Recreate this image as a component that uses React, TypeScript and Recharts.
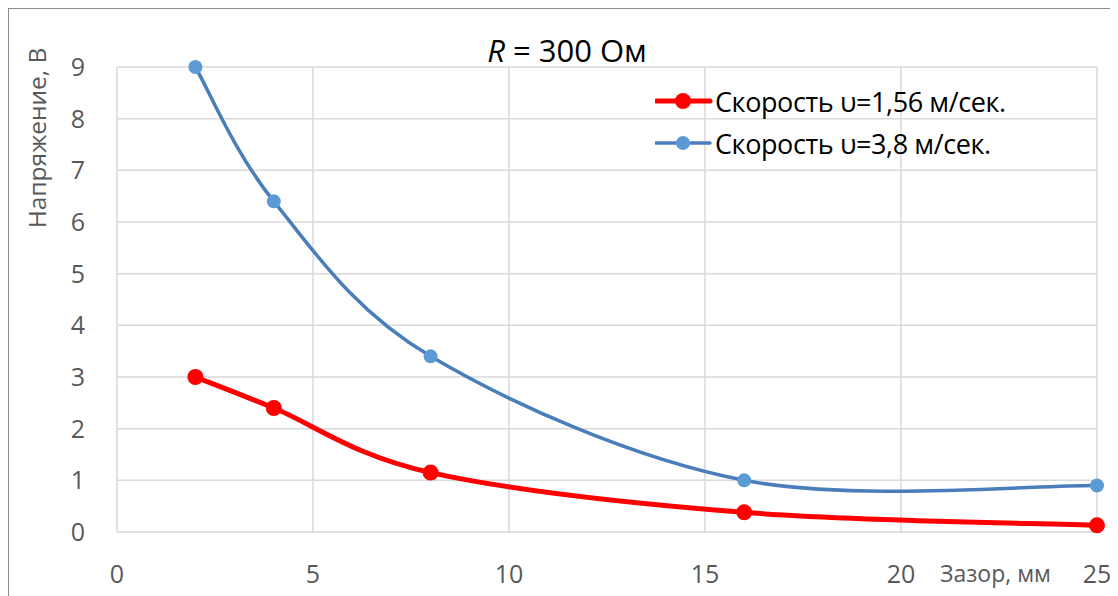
import React from 'react';
import { LineChart, Line, XAxis, YAxis, CartesianGrid } from 'recharts';

const gaps = [2, 4, 8, 16, 25];
const slowVoltage = [3, 2.4, 1.15, 0.38, 0.13];
const fastVoltage = [9, 6.4, 3.4, 1.0, 0.9];
const xTicks = [0, 5, 10, 15, 20, 25];
const yTicks = [0, 1, 2, 3, 4, 5, 6, 7, 8, 9];
const seriesNames = ['Скорость υ=1,56 м/сек.', 'Скорость υ=3,8 м/сек.'];

const data = gaps.map((g, i) => ({ gap: g, slow: slowVoltage[i], fast: fastVoltage[i] }));

const FONT = '"Open Sans", "Noto Sans", sans-serif';
const RED = '#ff0000';
const BLUE_LINE = '#4a7ebb';
const BLUE_DOT = '#5b9bd5';

// Excel-like smoothed curve (cardinal spline, Bezier control points at 1/6 of neighbor chord)
const excelCurve = (context: any) => {
  let pts: number[][] = [];
  return {
    areaStart() {},
    areaEnd() {},
    lineStart() {
      pts = [];
    },
    point(x: number, y: number) {
      pts.push([+x, +y]);
    },
    lineEnd() {
      const n = pts.length;
      if (!n) return;
      context.moveTo(pts[0][0], pts[0][1]);
      for (let i = 0; i < n - 1; i++) {
        const p0 = pts[Math.max(0, i - 1)];
        const p1 = pts[i];
        const p2 = pts[i + 1];
        const p3 = pts[Math.min(n - 1, i + 2)];
        const c1x = p1[0] + (p2[0] - p0[0]) / 6;
        const c1y = p1[1] + (p2[1] - p0[1]) / 6;
        const c2x = p2[0] - (p3[0] - p1[0]) / 6;
        const c2y = p2[1] - (p3[1] - p1[1]) / 6;
        context.bezierCurveTo(c1x, c1y, c2x, c2y, p2[0], p2[1]);
      }
    },
  };
};

const legendRows = [
  { name: seriesNames[0], line: RED, dot: RED, w: 5, r: 8 },
  { name: seriesNames[1], line: BLUE_LINE, dot: BLUE_DOT, w: 3.5, r: 7 },
];

export default function App() {
  return (
    <div
      style={{
        position: 'relative',
        width: 1109,
        height: 587,
        borderTop: '1px solid #8c8c8c',
        borderLeft: '1px solid #8c8c8c',
        background: '#fff',
        overflow: 'hidden',
      }}
    >
      <LineChart
        width={1109}
        height={587}
        data={data}
        margin={{ top: 58, right: 21, bottom: 0, left: 48 }}
      >
        <CartesianGrid stroke="#d9d9d9" strokeWidth={1.5} />
        <XAxis
          dataKey="gap"
          type="number"
          domain={[0, 25]}
          ticks={xTicks}
          axisLine={false}
          tickLine={false}
          tickSize={0}
          tickMargin={33}
          height={64}
          interval={0}
          tick={{ fill: '#595959', fontSize: 25, fontFamily: FONT }}
        />
        <YAxis
          type="number"
          domain={[0, 9]}
          ticks={yTicks}
          axisLine={false}
          tickLine={false}
          tickSize={0}
          tickMargin={32}
          width={60}
          interval={0}
          tick={{ fill: '#595959', fontSize: 25, fontFamily: FONT }}
        />
        <Line
          dataKey="slow"
          name={seriesNames[0]}
          type={excelCurve as any}
          stroke={RED}
          strokeWidth={5}
          dot={{ r: 8, fill: RED, stroke: 'none' }}
          activeDot={false}
          isAnimationActive={false}
        />
        <Line
          dataKey="fast"
          name={seriesNames[1]}
          type={excelCurve as any}
          stroke={BLUE_LINE}
          strokeWidth={3.5}
          dot={{ r: 7, fill: BLUE_DOT, stroke: 'none' }}
          activeDot={false}
          isAnimationActive={false}
        />
      </LineChart>
      <div style={{ position: 'absolute', left: 646, top: 71 }}>
        {legendRows.map((r) => (
          <div key={r.name} style={{ display: 'flex', alignItems: 'center', height: 42 }}>
            <svg width={58} height={20} style={{ marginRight: 2 }}>
              <line x1={1} y1={10} x2={55} y2={10} stroke={r.line} strokeWidth={r.w} strokeLinecap="round" />
              <circle cx={28} cy={10} r={r.r} fill={r.dot} />
            </svg>
            <span style={{ fontFamily: FONT, fontSize: 27, color: '#000', whiteSpace: 'nowrap', letterSpacing: -0.4 }}>
              {r.name}
            </span>
          </div>
        ))}
      </div>
      <div
        style={{
          position: 'absolute',
          left: 558,
          top: 26,
          transform: 'translateX(-50%)',
          fontFamily: FONT,
          fontSize: 31,
          color: '#000',
          whiteSpace: 'nowrap',
          lineHeight: 1,
        }}
      >
        <i>R</i> = 300 Ом
      </div>
      <div
        style={{
          position: 'absolute',
          left: 28,
          top: 129,
          transform: 'translate(-50%, -50%) rotate(-90deg)',
          fontFamily: FONT,
          fontSize: 24.5,
          color: '#595959',
          whiteSpace: 'nowrap',
          lineHeight: 1,
        }}
      >
        Напряжение, В
      </div>
      <div
        style={{
          position: 'absolute',
          left: 931,
          top: 553,
          fontFamily: FONT,
          fontSize: 23,
          color: '#595959',
          whiteSpace: 'nowrap',
          lineHeight: 1,
        }}
      >
        Зазор, мм
      </div>
    </div>
  );
}
